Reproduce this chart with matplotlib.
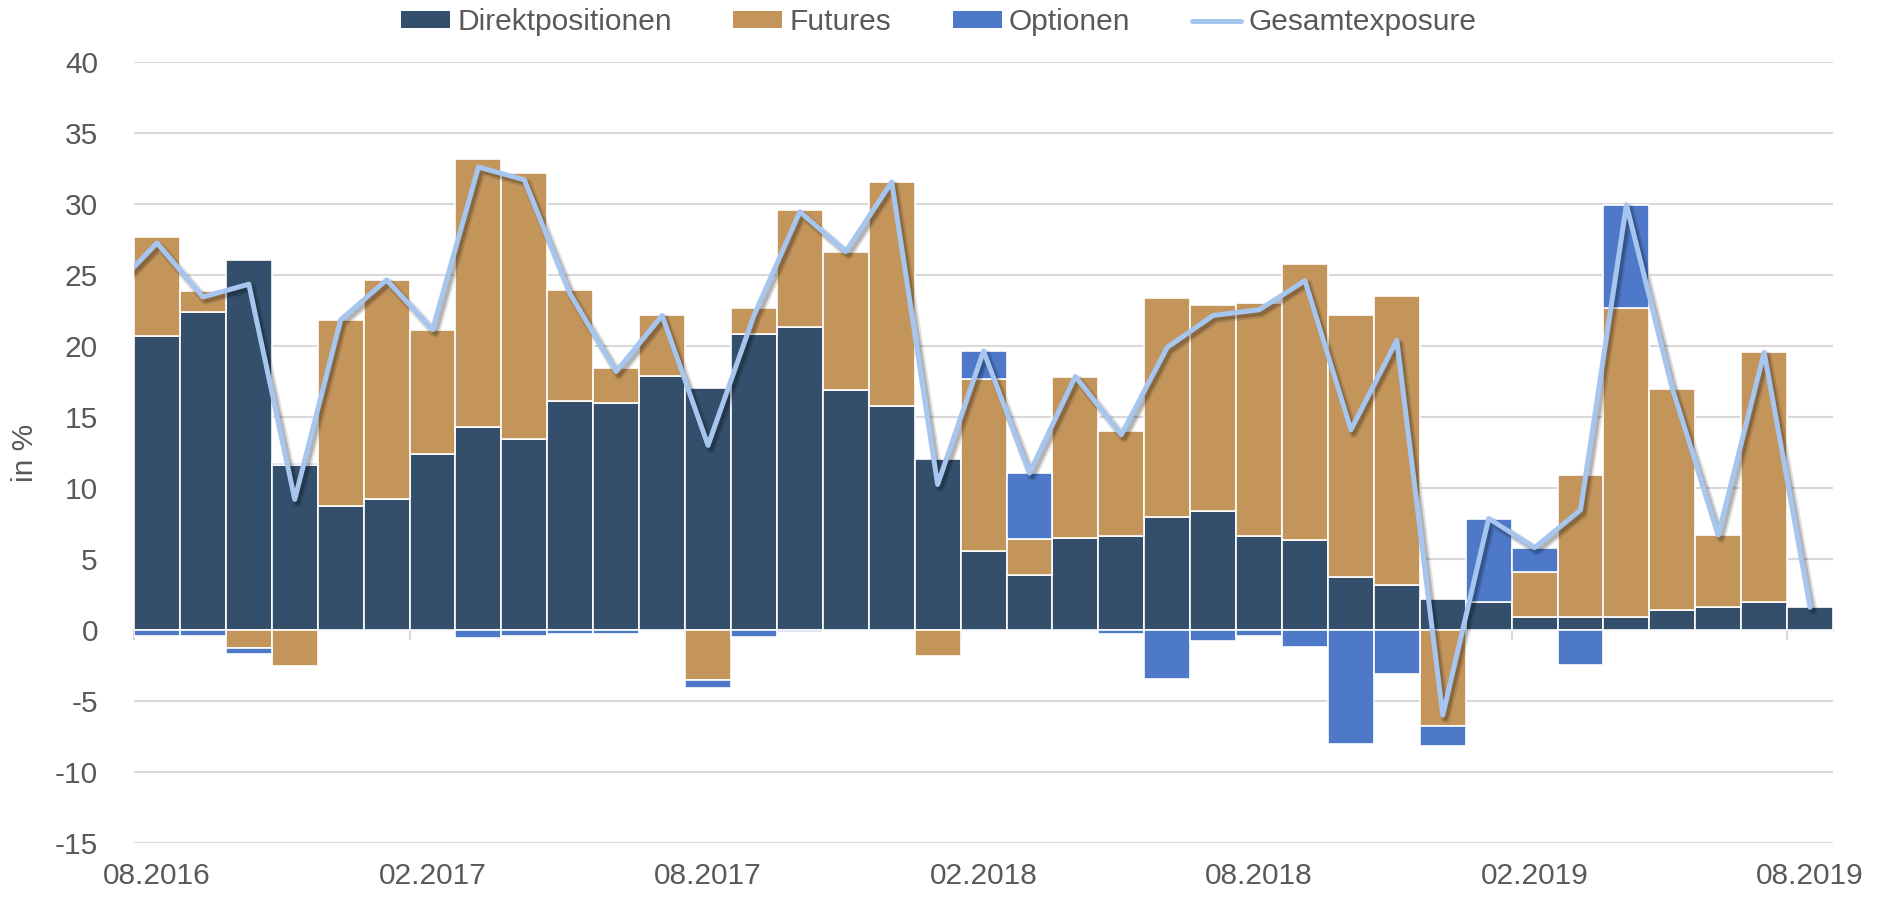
import matplotlib
matplotlib.use("Agg")
import matplotlib.pyplot as plt
import matplotlib.patheffects as pe
from matplotlib.patches import Patch
from matplotlib.lines import Line2D
import numpy as np

plt.rcParams["font.family"] = ["Liberation Sans", "DejaVu Sans"]
plt.rcParams["axes.unicode_minus"] = False

# monthly values 08.2016 .. 08.2019, in %
tick_labels = ["08.2016", "02.2017", "08.2017", "02.2018", "08.2018", "02.2019", "08.2019"]
direkt = [20.7, 22.4, 26.05, 11.6, 8.7, 9.2, 12.4, 14.3, 13.45, 16.15, 16.0, 17.9, 17.05,
          20.85, 21.35, 16.9, 15.75, 12.05, 5.55, 3.85, 6.45, 6.6, 7.95, 8.4, 6.65, 6.35,
          3.7, 3.2, 2.15, 2.0, 0.95, 0.9, 0.95, 1.4, 1.65, 1.95, 1.6]
futures = [6.95, 1.5, -1.25, -2.55, 13.15, 15.45, 8.75, 18.85, 18.7, 7.8, 2.45, 4.25, -3.55,
           1.8, 8.25, 9.75, 15.8, -1.8, 12.1, 2.55, 11.4, 7.4, 15.4, 14.5, 16.35, 19.45,
           18.45, 20.3, -6.75, 0.0, 3.1, 10.05, 21.7, 15.6, 5.05, 17.6, 0.0]
optionen = [-0.4, -0.45, -0.45, 0.15, 0.0, 0.0, 0.0, -0.55, -0.45, -0.3, -0.25, 0.0, -0.5,
            -0.5, -0.15, 0.0, 0.0, 0.0, 2.0, 4.65, 0.0, -0.25, -3.45, -0.75, -0.45, -1.2,
            -8.05, -3.1, -1.4, 5.85, 1.75, -2.5, 7.3, 0.0, 0.0, 0.0, 0.0]
gesamt_07_2016 = 23.9  # month before the first bar, only its segment into the plot shows

TEXT = "#595959"
GRID = "#D9D9D9"
series = [
    ("Direktpositionen", direkt, "#334F6B"),
    ("Futures", futures, "#C4955A"),
    ("Optionen", optionen, "#4E78C8"),
]
LINE_COLOR = "#A6C6F0"
FS = 21.5

fig = plt.figure(figsize=(18.96, 8.97), dpi=100)
ax = fig.add_axes([0.0707, 0.0602, 0.8961, 0.8707])

x = np.arange(len(direkt))
pos = np.zeros(len(x))
neg = np.zeros(len(x))
for name, vals, color in series:
    v = np.array(vals)
    bottom = np.where(v >= 0, pos, neg)
    keep = v != 0
    ax.bar(x[keep], v[keep], 1.0, bottom=bottom[keep], color=color,
           edgecolor="white", linewidth=1.2, zorder=2)
    pos += np.clip(v, 0, None)
    neg += np.clip(v, None, 0)

gesamt = [gesamt_07_2016] + list(np.array(direkt) + np.array(futures) + np.array(optionen))
shadow = [
    pe.SimpleLineShadow(offset=(2, -2.4), shadow_color="black", alpha=0.12, linewidth=6.5),
    pe.SimpleLineShadow(offset=(2, -2.4), shadow_color="black", alpha=0.2, linewidth=3.6),
    pe.Normal(),
]
ax.plot(np.arange(-1, len(x)), gesamt, color=LINE_COLOR, lw=3.6, zorder=3,
        solid_joinstyle="round", solid_capstyle="round", path_effects=shadow)

ax.set_xlim(-0.5, len(x) - 0.5)
ax.set_ylim(-15, 40)
ax.set_yticks(range(-15, 41, 5))
ax.yaxis.grid(True, color=GRID, linewidth=1.5)
ax.set_axisbelow(True)

for s in ("left", "right", "top"):
    ax.spines[s].set_visible(False)
ax.spines["bottom"].set_position(("data", 0))
ax.spines["bottom"].set_color(GRID)
ax.spines["bottom"].set_linewidth(1.5)
ax.spines["bottom"].set_zorder(1)

ax.set_xticks(np.arange(0, len(x), 6))
ax.set_xticklabels(tick_labels)
ax.set_xticks(np.arange(-0.5, len(x) - 0.5, 6), minor=True)
ax.tick_params(axis="x", which="major", length=0, pad=167, labelsize=FS, labelcolor=TEXT)
ax.tick_params(axis="x", which="minor", length=7.2, width=1.5, color=GRID)
ax.tick_params(axis="y", length=0, pad=26, labelsize=FS, labelcolor=TEXT)

ax.set_ylabel("in %", fontsize=FS, color=TEXT)
ax.yaxis.set_label_coords(-0.056, 0.5)

handles = [Patch(facecolor=c, edgecolor="none") for _, _, c in series]
handles.append(Line2D([], [], color=LINE_COLOR, lw=3.6, solid_capstyle="round"))
labels = [n for n, _, _ in series] + ["Gesamtexposure"]
fig.legend(handles, labels, loc="center", bbox_to_anchor=(0.495, 0.9755), ncol=4,
           frameon=False, fontsize=FS, handlelength=1.64, handleheight=0.47,
           handletextpad=0.25, columnspacing=2.05, labelcolor=TEXT, borderpad=0.1)

fig.savefig("out.png", dpi=100)
